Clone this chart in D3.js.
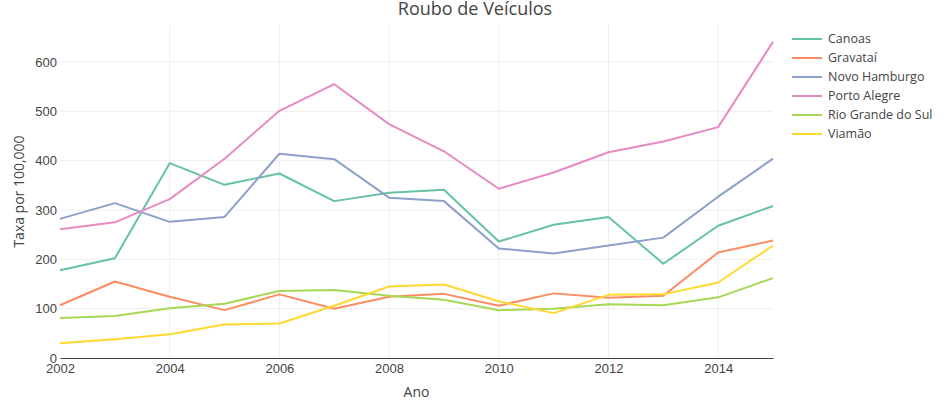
<!DOCTYPE html>
<html>
<head>
<meta charset="utf-8">
<script src="https://cdn.jsdelivr.net/npm/d3@7"></script>
<style>
  html, body { margin: 0; padding: 0; background: #fff; }
  svg { display: block; font-family: "Open Sans", "Noto Sans", sans-serif; }
</style>
</head>
<body>
<svg id="chart" width="950" height="400"></svg>
<script>
const years = [2002, 2003, 2004, 2005, 2006, 2007, 2008, 2009, 2010, 2011, 2012, 2013, 2014, 2015];
const seriesNames = ["Canoas", "Gravataí", "Novo Hamburgo", "Porto Alegre", "Rio Grande do Sul", "Viamão"];
const canoas      = [178, 202, 395, 351, 374, 318, 335, 341, 236, 270, 286, 191, 268, 308];
const gravatai    = [107, 155, 124,  97, 129, 100, 124, 130, 106, 131, 122, 126, 214, 238];
const novoHamburgo= [282, 314, 276, 286, 414, 403, 325, 318, 222, 212, 228, 244, 327, 404];
const portoAlegre = [261, 275, 322, 404, 501, 555, 474, 419, 343, 376, 417, 439, 468, 641];
const rioGrande   = [ 81,  85, 101, 110, 136, 138, 126, 118,  97, 100, 109, 107, 123, 162];
const viamao      = [ 30,  38,  48,  68,  70, 106, 145, 149, 115,  91, 128, 129, 153, 228];
const colors = ["#66c2a5", "#fc8d62", "#8da0cb", "#e78ac3", "#a6d854", "#ffd92f"];
const xTicks = [2002, 2004, 2006, 2008, 2010, 2012, 2014];
const yTicks = [0, 100, 200, 300, 400, 500, 600];
const title = "Roubo de Veículos";
const xTitle = "Ano";
const yTitle = "Taxa por 100,000";

const allSeries = [canoas, gravatai, novoHamburgo, portoAlegre, rioGrande, viamao];

const svg = d3.select("#chart");
const margin = {left: 60, right: 177, top: 25, bottom: 42};
const W = 950, H = 400;

const x = d3.scaleLinear().domain([2002, 2015]).range([margin.left, W - margin.right]);
const y = d3.scaleLinear().domain([0, 675]).range([H - margin.bottom, margin.top]);

// grid
const grid = svg.append("g");
grid.selectAll("line.v").data(xTicks.filter(d => d !== 2002)).enter().append("line")
  .attr("x1", d => x(d)).attr("x2", d => x(d))
  .attr("y1", y(675)).attr("y2", y(0))
  .attr("stroke", "#eeeeee").attr("stroke-width", 1);
grid.selectAll("line.h").data(yTicks.filter(d => d !== 0)).enter().append("line")
  .attr("x1", x(2002)).attr("x2", x(2015))
  .attr("y1", d => y(d)).attr("y2", d => y(d))
  .attr("stroke", "#eeeeee").attr("stroke-width", 1);

// lines
const line = d3.line().x((d, i) => x(years[i])).y(d => y(d));
allSeries.forEach((s, i) => {
  svg.append("path").datum(s)
    .attr("fill", "none").attr("stroke", colors[i]).attr("stroke-width", 2)
    .attr("stroke-linejoin", "round")
    .attr("d", line);
});

// x axis
const xAxis = d3.axisBottom(x).tickValues(xTicks).tickFormat(d3.format("d")).tickSize(0).tickPadding(6);
const gx = svg.append("g").attr("transform", `translate(0,${y(0)})`).call(xAxis);
gx.select(".domain").attr("stroke", "#444").attr("stroke-width", 1);
gx.selectAll("text").attr("fill", "#444").style("font-size", "13px");

// y axis
const yAxis = d3.axisLeft(y).tickValues(yTicks).tickSize(0).tickPadding(3);
const gy = svg.append("g").attr("transform", `translate(${x(2002)},0)`).call(yAxis);
gy.select(".domain").remove();
gy.selectAll("text").attr("fill", "#444").style("font-size", "13px");

// titles
svg.append("text").attr("x", 475).attr("y", 15).attr("text-anchor", "middle")
  .attr("fill", "#444").style("font-size", "18px").text(title);
svg.append("text").attr("x", x(2002) + (x(2015) - x(2002)) / 2).attr("y", 397).attr("text-anchor", "middle")
  .attr("fill", "#444").style("font-size", "14px").text(xTitle);
svg.append("text").attr("transform", `translate(24,${y(0) - (y(0) - y(675)) / 2}) rotate(-90)`)
  .attr("text-anchor", "middle").attr("fill", "#444").style("font-size", "14px").text(yTitle);

// legend
const lg = svg.append("g").attr("transform", "translate(792,39)");
seriesNames.forEach((n, i) => {
  const g = lg.append("g").attr("transform", `translate(0,${i * 19})`);
  g.append("line").attr("x1", 0).attr("x2", 30).attr("y1", 0).attr("y2", 0)
    .attr("stroke", colors[i]).attr("stroke-width", 2);
  g.append("text").attr("x", 36).attr("y", 0).attr("dy", "0.35em")
    .attr("fill", "#444").style("font-size", "12.5px").text(n);
});
</script>
</body>
</html>
